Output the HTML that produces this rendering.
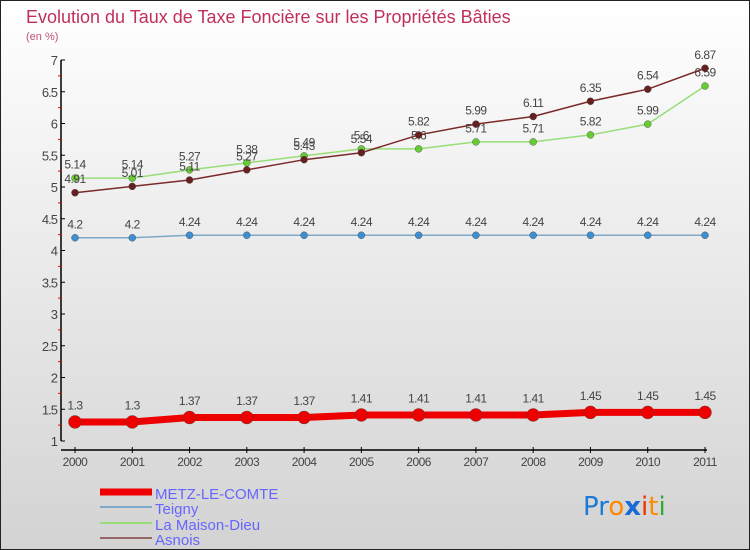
<!DOCTYPE html>
<html><head><meta charset="utf-8"><style>
body{margin:0;width:750px;height:550px;overflow:hidden;font-family:"Liberation Sans",sans-serif}
#c{position:absolute;left:0;top:0;width:748px;height:548px;border:1px solid #222;background:linear-gradient(#ffffff,#d3d3d3)}
</style></head><body>
<div id="c">
<svg id="s" width="750" height="550" style="position:absolute;left:-1px;top:-1px">
<text x="26" y="23" font-size="18" fill="#c0305a">Evolution du Taux de Taxe Foncière sur les Propriétés Bâties</text>
<text x="26" y="40" font-size="11" fill="#c0507a">(en %)</text>
<g id="axes"></g><g id="series"></g>
<g>
<line x1="100" y1="492" x2="152" y2="492" stroke="#ee0000" stroke-width="7"/>
<text x="155" y="499" font-size="15" fill="#6666ff">METZ-LE-COMTE</text>
<line x1="100" y1="507" x2="152" y2="507" stroke="#7ea8c8" stroke-width="2"/>
<text x="155" y="514" font-size="15" fill="#6666ff">Teigny</text>
<line x1="100" y1="523" x2="152" y2="523" stroke="#99dd77" stroke-width="2"/>
<text x="155" y="530" font-size="15" fill="#6666ff">La Maison-Dieu</text>
<line x1="100" y1="538" x2="152" y2="538" stroke="#996666" stroke-width="2"/>
<text x="155" y="545" font-size="15" fill="#6666ff">Asnois</text>
</g>
<text x="583" y="515" font-size="26" font-family="'DejaVu Sans',sans-serif"><tspan fill="#1a7ad6">Pr</tspan><tspan fill="#ff8800">o</tspan><tspan fill="#1a6ad6" font-weight="bold">x</tspan><tspan fill="#ee3300">i</tspan><tspan fill="#ff8800">t</tspan><tspan fill="#33aa33">i</tspan></text>
</svg></div>
<script>
const years=["2000","2001","2002","2003","2004","2005","2006","2007","2008","2009","2010","2011"];
const metz=[1.3,1.3,1.37,1.37,1.37,1.41,1.41,1.41,1.41,1.45,1.45,1.45];
const teigny=[4.2,4.2,4.24,4.24,4.24,4.24,4.24,4.24,4.24,4.24,4.24,4.24];
const maison=[5.14,5.14,5.27,5.38,5.49,5.6,5.6,5.71,5.71,5.82,5.99,6.59];
const asnois=[4.91,5.01,5.11,5.27,5.43,5.54,5.82,5.99,6.11,6.35,6.54,6.87];
const yTicks=["1","1.5","2","2.5","3","3.5","4","4.5","5","5.5","6","6.5","7"];
const NS="http://www.w3.org/2000/svg";
const X=i=>75+i*(630/11), Y=v=>441-(v-1)*63.5;
function mk(t,a,p){const e=document.createElementNS(NS,t);for(const k in a)e.setAttribute(k,a[k]);p.appendChild(e);return e;}
const ax=document.getElementById('axes'), sg=document.getElementById('series');
let e=mk('line',{x1:61,y1:60,x2:61,y2:441,stroke:'#000','stroke-width':1.5},ax);


e=mk('line',{x1:61,y1:450,x2:707,y2:450,stroke:'#000','stroke-width':1.5},ax);


yTicks.forEach(t=>{const y=Y(+t);mk('line',{x1:61,y1:y,x2:65,y2:y,stroke:'#000'},ax);
 const m=Y(+t+0.25);if(+t<7)mk('line',{x1:58,y1:m,x2:61,y2:m,stroke:'#e00'},ax);
 const tx=mk('text',{x:57,y:y+5,'font-size':13,'text-anchor':'end',fill:'#444','letter-spacing':'-1'},ax);tx.textContent=t;
 
 });
years.forEach((yr,i)=>{mk('line',{x1:X(i),y1:447,x2:X(i),y2:453,stroke:'#000'},ax);
 const tx=mk('text',{x:X(i),y:466,'font-size':12,'text-anchor':'middle',fill:'#444','letter-spacing':'-0.5'},ax);tx.textContent=yr;
 
 });
function series(d,col,dot,w,r,name){
 const p=mk('polyline',{points:d.map((v,i)=>X(i)+','+Y(v)).join(' '),fill:'none',stroke:col,'stroke-width':w},sg);
 
 
 d.forEach((v,i)=>{const c=mk('circle',{cx:X(i),cy:Y(v),r:r,fill:dot,stroke:'#444','stroke-width':0.4},sg);
  
  
  const t=mk('text',{x:X(i),y:Y(v)-(r+6),'font-size':12,'text-anchor':'middle',fill:'#444','letter-spacing':'-0.5'},sg);t.textContent=String(v);
  
  });
}
series(teigny,'#7ea8c8','#3f8fd0',1.5,3.5,'teigny');
series(maison,'#99dd77','#66cc33',1.5,3.5,'maison-dieu');
series(asnois,'#7a2a2a','#662020',1.5,3.5,'asnois');
series(metz,'#ee0000','#ee0000',7,6.5,'metz');
</script>
</body></html>
